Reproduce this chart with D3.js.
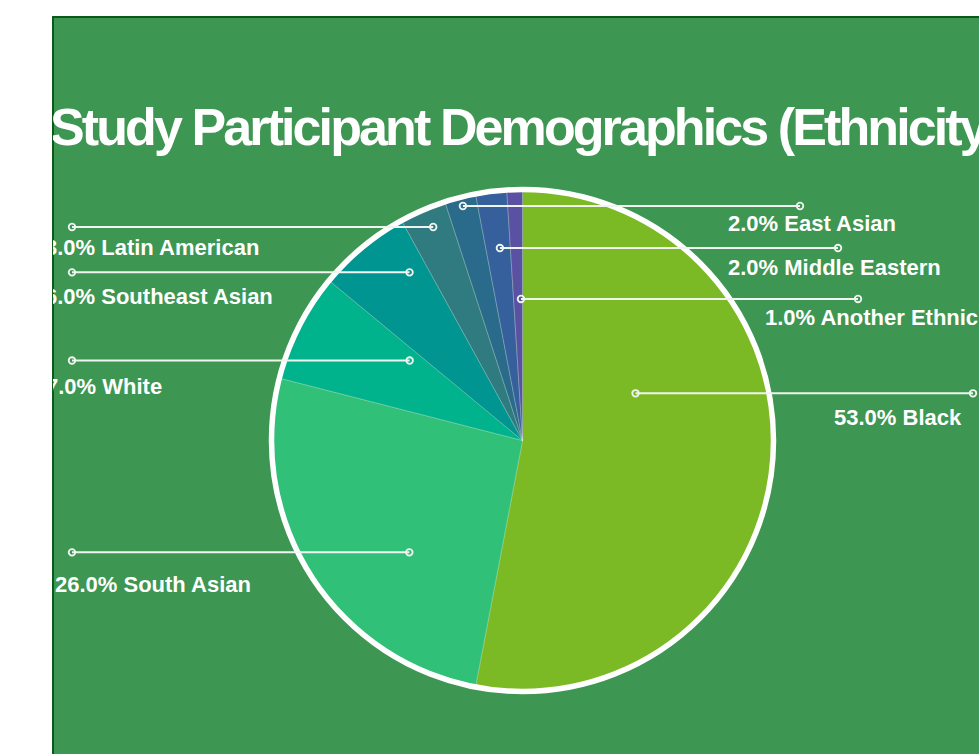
<!DOCTYPE html>
<html>
<head>
<meta charset="utf-8">
<script src="https://cdn.jsdelivr.net/npm/d3@7"></script>
<style>
  html, body { margin: 0; padding: 0; background: #ffffff; }
  svg { display: block; }
  text { font-family: "Liberation Sans", Arial, sans-serif; font-weight: bold; fill: #ffffff; }
</style>
</head>
<body>
<svg id="chart" width="979" height="754"></svg>
<script>
// data
const categories = ["Black", "South Asian", "White", "Southeast Asian", "Latin American", "East Asian", "Middle Eastern", "Another Ethnicity"];
const shares = [53, 26, 7, 6, 3, 2, 2, 1];
const sliceColors = ["#7cba25", "#30c077", "#00b38d", "#009590", "#2f7b80", "#2a6a8a", "#36609c", "#5b51a3"];
const titleText = "Study Participant Demographics (Ethnicity)";

// where each callout sits: position inside its slice (share of the angle, share of radius),
// end of the leader line, and where its text goes
const calloutT = [0.353, 0.369, 0.83, 0.764, 0.565, 0.52, 0.57, 0.83];
const calloutR = [0.488, 0.634, 0.551, 0.807, 0.922, 0.964, 0.772, 0.564];
const lineEndX = [973, 72, 72, 72, 72, 800, 838, 858];
const textX = [834, 55, 46, 45, 45, 728, 728, 765];
const textDy = [32, 40, 33, 32, 28, 25, 27, 26];

const W = 979, H = 754;
const cx = 522.5, cy = 440.5, R = 251;

const svg = d3.select("#chart");

svg.append("defs").append("clipPath").attr("id", "panel")
   .append("rect").attr("x", 53).attr("y", 17).attr("width", W).attr("height", H);

svg.append("rect")
   .attr("x", 53).attr("y", 17)
   .attr("width", W).attr("height", H)
   .attr("fill", "#3d9651")
   .attr("stroke", "#0b5a17")
   .attr("stroke-width", 2);

const panel = svg.append("g").attr("clip-path", "url(#panel)");

panel.append("text")
     .attr("x", 50).attr("y", 145)
     .style("font-size", "52px")
     .style("letter-spacing", "-2.9px")
     .text(titleText);

const pie = d3.pie().sort(null).value(d => d.v);
const arcs = pie(categories.map((c, i) => ({ name: c, v: shares[i] })));
const arc = d3.arc().innerRadius(0).outerRadius(R);

const g = panel.append("g").attr("transform", `translate(${cx},${cy})`);

g.selectAll("path.slice")
 .data(arcs)
 .enter()
 .append("path")
 .attr("class", "slice")
 .attr("d", arc)
 .attr("fill", (d, i) => sliceColors[i])
 .attr("stroke", "rgba(255,255,255,0.3)")
 .attr("stroke-width", 0.8);

g.append("circle")
 .attr("r", R)
 .attr("fill", "none")
 .attr("stroke", "#ffffff")
 .attr("stroke-width", 5.5);

// callouts
const fmt = d3.format(".1f");
const total = d3.sum(shares);

arcs.forEach((d, i) => {
  const a = d.startAngle + (d.endAngle - d.startAngle) * calloutT[i];
  const r = R * calloutR[i];
  const x0 = cx + r * Math.sin(a);
  const y0 = cy - r * Math.cos(a);
  const x1 = lineEndX[i];

  panel.append("line")
       .attr("x1", x0).attr("y1", y0)
       .attr("x2", x1).attr("y2", y0)
       .attr("stroke", "#f0f4f0")
       .attr("stroke-width", 2);

  [x0, x1].forEach(x => {
    panel.append("circle")
         .attr("cx", x).attr("cy", y0).attr("r", 3.3)
         .attr("fill", "none")
         .attr("stroke", "#f0f4f0")
         .attr("stroke-width", 1.8);
  });

  panel.append("text")
       .attr("x", textX[i])
       .attr("y", y0 + textDy[i])
       .style("font-size", "22px")
       .style("letter-spacing", "0px")
       .text(`${fmt(shares[i] / total * 100)}% ${categories[i]}`);
});
</script>
</body>
</html>
